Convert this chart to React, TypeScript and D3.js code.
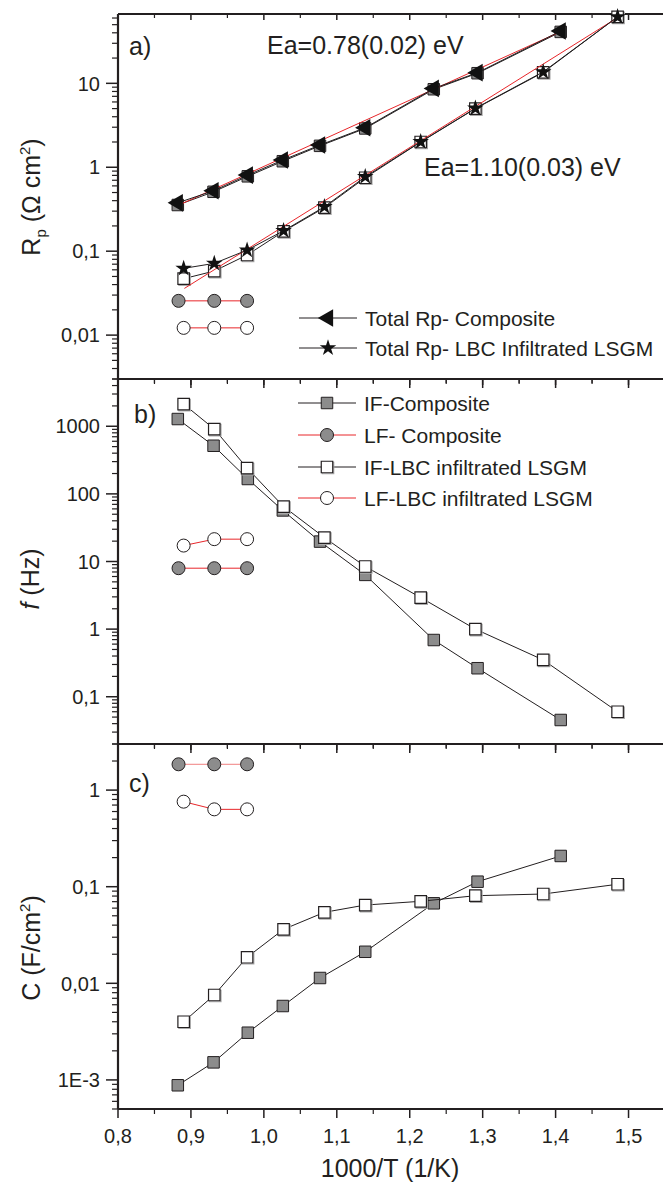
import React from "react";
import * as d3 from "d3";

// 1000/T values (1/K)
const xComposite = [0.882, 0.931, 0.978, 1.026, 1.077, 1.139, 1.233, 1.293, 1.407];
const xLbc = [0.89, 0.932, 0.977, 1.027, 1.083, 1.139, 1.215, 1.29, 1.383, 1.485];
const xLfComposite = [0.883, 0.932, 0.977];
const xLfLbc = [0.89, 0.932, 0.977];

// panel a) Rp (ohm cm2)
const rpComposite = [0.377, 0.525, 0.807, 1.22, 1.84, 2.96, 8.7, 13.4, 42];
const rpCompositeSq = [0.355, 0.51, 0.78, 1.18, 1.8, 2.9, 8.5, 13.2, 41];
const rpLbc = [0.0624, 0.0716, 0.103, 0.175, 0.338, 0.771, 2.01, 5.04, 13.7, 62];
const rpLbcSq = [0.047, 0.058, 0.09, 0.172, 0.33, 0.75, 2.0, 5.0, 13.5, 62];
const rpLfComposite = [0.0256, 0.0256, 0.0256];
const rpLfLbc = [0.0122, 0.0122, 0.0122];
const fitCompX = [0.882, 1.406];
const fitCompY = [0.35, 41];
const fitLbcX = [0.891, 1.484];
const fitLbcY = [0.036, 60];

// panel b) f (Hz)
const fIfComposite = [1279, 515, 166, 56.9, 19.7, 6.34, 0.69, 0.264, 0.0453];
const fIfLbc = [2130, 910, 241, 65, 22.6, 8.43, 2.93, 1.0, 0.35, 0.06];
const fLfComposite = [7.96, 7.96, 7.96];
const fLfLbc = [17.2, 21.4, 21.4];

// panel c) C (F/cm2)
const cIfComposite = [8.8e-4, 1.52e-3, 3.08e-3, 5.82e-3, 0.01135, 0.0212, 0.0673, 0.1127, 0.208];
const cIfLbc = [4.0e-3, 7.57e-3, 0.0186, 0.0362, 0.0543, 0.0646, 0.0706, 0.0807, 0.084, 0.106];
const cLfComposite = [1.85, 1.85, 1.85];
const cLfLbc = [0.759, 0.632, 0.632];

const xTicks = [0.8, 0.9, 1.0, 1.1, 1.2, 1.3, 1.4, 1.5];
const xTickLabels = ["0,8", "0,9", "1,0", "1,1", "1,2", "1,3", "1,4", "1,5"];
const aTicks = [0.01, 0.1, 1, 10];
const aTickLabels = ["0,01", "0,1", "1", "10"];
const bTicks = [0.1, 1, 10, 100, 1000];
const bTickLabels = ["0,1", "1", "10", "100", "1000"];
const cTicks = [0.001, 0.01, 0.1, 1];
const cTickLabels = ["1E-3", "0,01", "0,1", "1"];

const legendA = ["Total Rp- Composite", "Total Rp- LBC Infiltrated LSGM"];
const legendB = ["IF-Composite", "LF- Composite", "IF-LBC infiltrated LSGM", "LF-LBC infiltrated LSGM"];

const W = 663;
const H = 1182;
const FONT = "'Liberation Sans', Arial, sans-serif";
const INK = "#231f20";
const GRAY = "#8c8c8c";
const RED = "#e8262a";

const x = d3.scaleLinear().domain([0.8, 1.55]).range([118, 665]);
const yA = d3.scaleLog().domain([0.003, 67]).range([379, 14]);
const yB = d3.scaleLog().domain([0.02, 5000]).range([744, 379]);
const yC = d3.scaleLog().domain([5e-4, 3]).range([1109, 744]);

const sqPath = d3.symbol(d3.symbolSquare, 132)()!;
const triPath = d3.symbol(d3.symbolTriangle, 135)()!;
const starPath = d3.symbol(d3.symbolStar, 85)()!;

type Kind = "sqFill" | "sqOpen" | "cirFill" | "cirOpen" | "tri" | "star";

function Marker({ kind, cx, cy }: { kind: Kind; cx: number; cy: number }) {
  const t = `translate(${cx},${cy})`;
  if (kind === "sqFill") return <path d={sqPath} transform={t} fill={GRAY} stroke={INK} strokeWidth={1} />;
  if (kind === "sqOpen")
    return (
      <g>
        <path d={sqPath} transform={`translate(${cx + 1},${cy + 1})`} fill="none" stroke="#aaa" strokeWidth={1.2} />
        <path d={sqPath} transform={t} fill="#fff" stroke={INK} strokeWidth={1.2} />
      </g>
    );
  if (kind === "cirFill") return <circle cx={cx} cy={cy} r={6.5} fill={GRAY} stroke={INK} strokeWidth={1} />;
  if (kind === "cirOpen") return <circle cx={cx} cy={cy} r={6.5} fill="#fff" stroke={INK} strokeWidth={1} />;
  if (kind === "tri") return <path d={triPath} transform={`${t} rotate(-90)`} fill="#111" />;
  return <path d={starPath} transform={t} fill="#111" />;
}

function Series({ xs, ys, y, kind, color }: { xs: number[]; ys: number[]; y: d3.ScaleLogarithmic<number, number>; kind: Kind | null; color: string }) {
  const pts = xs.map((v, i) => [v, ys[i]] as [number, number]);
  const line = d3.line<[number, number]>().x((d) => x(d[0])).y((d) => y(d[1]));
  return (
    <g>
      <path d={line(pts) || ""} fill="none" stroke={color} strokeWidth={1} />
      {kind && pts.map((d, i) => <Marker key={i} kind={kind} cx={x(d[0])} cy={y(d[1])} />)}
    </g>
  );
}

function Frame({ y, ticks, labels, showX }: { y: d3.ScaleLogarithmic<number, number>; ticks: number[]; labels: string[]; showX: boolean }) {
  const [bottom, top] = y.range();
  const left = x.range()[0];
  const minor = y.ticks().filter((t) => Math.abs(Math.log10(t) - Math.round(Math.log10(t))) > 1e-6);
  const xMinor = d3.range(0.85, 1.56, 0.1);
  return (
    <g stroke={INK}>
      {minor.map((t, i) => (
        <line key={"m" + i} x1={left - 6} x2={left} y1={y(t)} y2={y(t)} strokeWidth={1.2} />
      ))}
      {ticks.map((t, i) => (
        <g key={"t" + i}>
          <line x1={left - 12} x2={left} y1={y(t)} y2={y(t)} strokeWidth={1.5} />
          <text x={left - 18} y={y(t)} dy="0.36em" textAnchor="end" fontSize={20} fill={INK} stroke="none" fontFamily={FONT}>
            {labels[i]}
          </text>
        </g>
      ))}
      {xTicks.map((t, i) => (
        <g key={"x" + i}>
          <line x1={x(t)} x2={x(t)} y1={top} y2={top + 6} strokeWidth={1.5} />
          <line x1={x(t)} x2={x(t)} y1={bottom} y2={bottom + 9} strokeWidth={1.5} />
          {showX && (
            <text x={x(t)} y={bottom + 34} textAnchor="middle" fontSize={20} fill={INK} stroke="none" fontFamily={FONT}>
              {xTickLabels[i]}
            </text>
          )}
        </g>
      ))}
      {xMinor.map((t, i) => (
        <g key={"xm" + i}>
          <line x1={x(t)} x2={x(t)} y1={top} y2={top + 4} strokeWidth={1.2} />
          <line x1={x(t)} x2={x(t)} y1={bottom} y2={bottom + 5} strokeWidth={1.2} />
        </g>
      ))}
      <line x1={left} x2={left} y1={top} y2={bottom} strokeWidth={2.2} />
      <line x1={left} x2={x.range()[1]} y1={top} y2={top} strokeWidth={2.2} />
      <line x1={left} x2={x.range()[1]} y1={bottom} y2={bottom} strokeWidth={2.2} />
    </g>
  );
}

function LegendRow({ cy, x0, label, kind, color }: { cy: number; x0: number; label: string; kind: Kind; color: string }) {
  return (
    <g>
      <line x1={x0} x2={x0 + 58} y1={cy} y2={cy} stroke={color} strokeWidth={1} />
      <Marker kind={kind} cx={x0 + 29} cy={cy} />
      <text x={x0 + 66} y={cy} dy="0.36em" fontSize={21} fill={INK} fontFamily={FONT}>
        {label}
      </text>
    </g>
  );
}

export default function App() {
  const txt = { fill: INK, fontFamily: FONT };
  return (
    <svg width={W} height={H} style={{ position: "absolute", left: 0, top: 0, background: "#fff" }}>
      <rect width={W} height={H} fill="#fff" />

      {/* panel a */}
      <Frame y={yA} ticks={aTicks} labels={aTickLabels} showX={false} />
      <Series xs={xComposite} ys={rpCompositeSq} y={yA} kind="sqFill" color={INK} />
      <Series xs={xLbc} ys={rpLbcSq} y={yA} kind="sqOpen" color={INK} />
      <Series xs={fitCompX} ys={fitCompY} y={yA} kind={null} color={RED} />
      <Series xs={fitLbcX} ys={fitLbcY} y={yA} kind={null} color={RED} />
      <Series xs={xComposite} ys={rpComposite} y={yA} kind="tri" color={INK} />
      <Series xs={xLbc} ys={rpLbc} y={yA} kind="star" color={INK} />
      <Series xs={xLfComposite} ys={rpLfComposite} y={yA} kind="cirFill" color={RED} />
      <Series xs={xLfLbc} ys={rpLfLbc} y={yA} kind="cirOpen" color={RED} />
      <text x={129} y={55} fontSize={25} {...txt}>a)</text>
      <text x={267} y={54} fontSize={25} {...txt}>Ea=0.78(0.02) eV</text>
      <text x={424} y={176} fontSize={25} {...txt}>Ea=1.10(0.03) eV</text>
      <LegendRow cy={318} x0={299} label={legendA[0]} kind="tri" color={INK} />
      <LegendRow cy={348} x0={299} label={legendA[1]} kind="star" color={INK} />
      <text transform="translate(40,197) rotate(-90)" textAnchor="middle" fontSize={25} {...txt}>
        R<tspan dy={6} fontSize={15}>p</tspan>
        <tspan dy={-6}> (Ω cm</tspan>
        <tspan dy={-10} fontSize={15}>2</tspan>
        <tspan dy={10}>)</tspan>
      </text>

      {/* panel b */}
      <Frame y={yB} ticks={bTicks} labels={bTickLabels} showX={false} />
      <Series xs={xComposite} ys={fIfComposite} y={yB} kind="sqFill" color={INK} />
      <Series xs={xLbc} ys={fIfLbc} y={yB} kind="sqOpen" color={INK} />
      <Series xs={xLfComposite} ys={fLfComposite} y={yB} kind="cirFill" color={RED} />
      <Series xs={xLfLbc} ys={fLfLbc} y={yB} kind="cirOpen" color={RED} />
      <text x={134} y={423} fontSize={25} {...txt}>b)</text>
      <LegendRow cy={403} x0={298} label={legendB[0]} kind="sqFill" color={INK} />
      <LegendRow cy={435} x0={298} label={legendB[1]} kind="cirFill" color={RED} />
      <LegendRow cy={467} x0={298} label={legendB[2]} kind="sqOpen" color={INK} />
      <LegendRow cy={498} x0={298} label={legendB[3]} kind="cirOpen" color={RED} />
      <text transform="translate(39,579) rotate(-90)" textAnchor="middle" fontSize={25} {...txt}>
        <tspan fontStyle="italic">f</tspan> (Hz)
      </text>

      {/* panel c */}
      <Frame y={yC} ticks={cTicks} labels={cTickLabels} showX={true} />
      <Series xs={xComposite} ys={cIfComposite} y={yC} kind="sqFill" color={INK} />
      <Series xs={xLbc} ys={cIfLbc} y={yC} kind="sqOpen" color={INK} />
      <Series xs={xLfComposite} ys={cLfComposite} y={yC} kind="cirFill" color="#f08080" />
      <Series xs={xLfLbc} ys={cLfLbc} y={yC} kind="cirOpen" color={RED} />
      <text x={129} y={792} fontSize={25} {...txt}>c)</text>
      <text transform="translate(40,948) rotate(-90)" textAnchor="middle" fontSize={25} {...txt}>
        C (F/cm<tspan dy={-10} fontSize={15}>2</tspan>
        <tspan dy={10}>)</tspan>
      </text>
      <text x={390} y={1177} textAnchor="middle" fontSize={25} {...txt}>1000/T (1/K)</text>
    </svg>
  );
}
